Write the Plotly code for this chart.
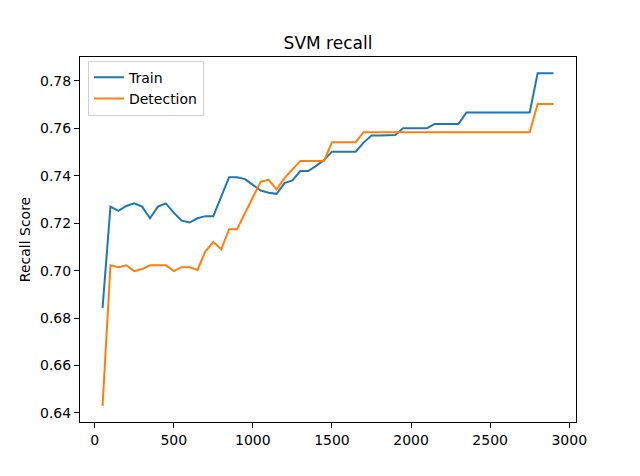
import plotly.graph_objects as go

sizes = list(range(50, 2950, 50))

train_recall = [0.6843, 0.7270, 0.7252, 0.7273, 0.7284, 0.7270, 0.7221, 0.7270, 0.7284, 0.7245,
                0.7211, 0.7203, 0.7221, 0.7230, 0.7230, 0.7312, 0.7394, 0.7394, 0.7386, 0.7362,
                0.7338, 0.7329, 0.7324, 0.7369, 0.7381, 0.7420, 0.7420, 0.7442, 0.7467, 0.7502,
                0.7502, 0.7502, 0.7502, 0.7540, 0.7570, 0.7570, 0.7570, 0.7572, 0.7601, 0.7601,
                0.7601, 0.7601, 0.7619, 0.7619, 0.7619, 0.7619, 0.7667, 0.7667, 0.7667, 0.7667,
                0.7667, 0.7667, 0.7667, 0.7667, 0.7667, 0.7833, 0.7833, 0.7833]

detect_recall = [0.6430, 0.7023, 0.7015, 0.7023, 0.6998, 0.7007, 0.7023, 0.7023, 0.7023, 0.6998,
                 0.7015, 0.7015, 0.7003, 0.7082, 0.7121, 0.7090, 0.7175, 0.7175, 0.7242, 0.7308,
                 0.7376, 0.7383, 0.7343, 0.7390, 0.7426, 0.7463, 0.7463, 0.7463, 0.7463, 0.7542,
                 0.7542, 0.7542, 0.7542, 0.7584, 0.7584, 0.7584, 0.7584, 0.7584, 0.7584, 0.7584,
                 0.7584, 0.7584, 0.7584, 0.7584, 0.7584, 0.7584, 0.7584, 0.7584, 0.7584, 0.7584,
                 0.7584, 0.7584, 0.7584, 0.7584, 0.7584, 0.7703, 0.7703, 0.7703]

fig = go.Figure()
fig.add_trace(go.Scatter(x=sizes, y=train_recall, mode="lines", name="Train",
                         line=dict(color="#1f77b4", width=2)))
fig.add_trace(go.Scatter(x=sizes, y=detect_recall, mode="lines", name="Detection",
                         line=dict(color="#ff7f0e", width=2)))

axis_style = dict(showgrid=False, zeroline=False, showline=True, linecolor="black",
                  linewidth=1, mirror=True, ticks="outside", ticklen=5, tickcolor="black",
                  automargin=False,
                  tickfont=dict(family="DejaVu Sans", size=14, color="black"))

# page body adds an 8px offset, so margins are shifted to compensate
fig.update_layout(
    width=640, height=476,
    margin=dict(l=72, r=72, t=49, b=62),
    paper_bgcolor="white", plot_bgcolor="white",
    title=dict(text="SVM recall", x=(72 + 248) / 640, xanchor="center", y=1 - 35 / 476, yanchor="middle",
               font=dict(family="DejaVu Sans", size=17, color="black")),
    legend=dict(x=0.016, y=0.99, xanchor="left", yanchor="top",
                bordercolor="#d0d0d0", borderwidth=1, bgcolor="white",
                font=dict(family="DejaVu Sans", size=14, color="black")),
    font=dict(family="DejaVu Sans", color="black"),
)
fig.update_xaxes(range=[-92.5, 3042.5], tickvals=[0, 500, 1000, 1500, 2000, 2500, 3000], **axis_style)
fig.update_yaxes(range=[0.6362, 0.7901], tickvals=[0.64, 0.66, 0.68, 0.70, 0.72, 0.74, 0.76, 0.78],
                 tickformat=".2f", title=dict(text="Recall Score", font=dict(size=14), standoff=6),
                 **axis_style)

fig.write_html("out.html")
